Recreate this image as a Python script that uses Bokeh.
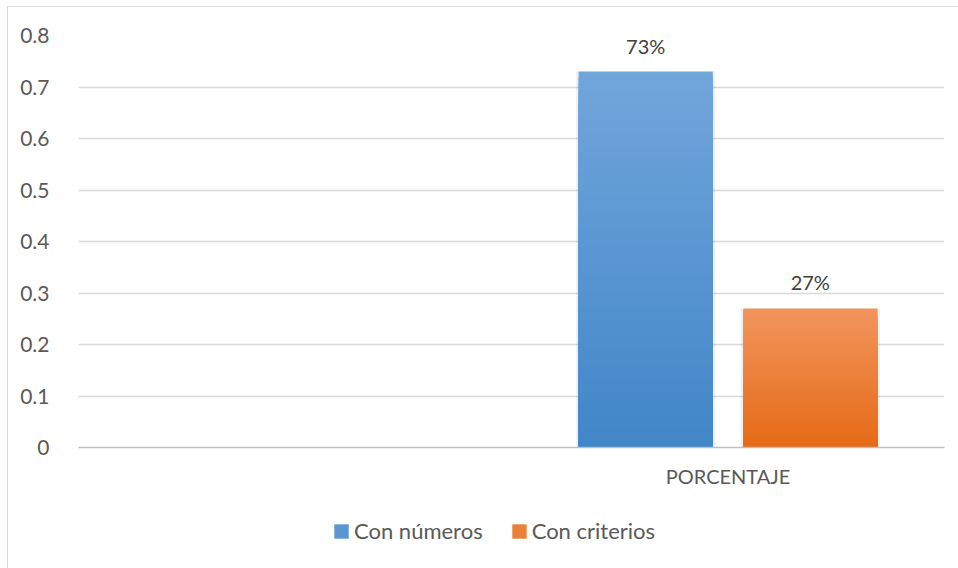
import numpy as np
from bokeh.plotting import figure
from bokeh.layouts import column
from bokeh.core.properties import value
from bokeh.models import (ColumnDataSource, Range1d, FactorRange, FixedTicker,
                          LabelSet, Legend, LegendItem)
from bokeh.transform import dodge
from bokeh.embed import file_html
from bokeh.resources import INLINE

# ---- data ----
categories = ["", "PORCENTAJE"]
series_names = ["Con números", "Con criterios"]
series_values = [0.73, 0.27]
value_labels = ["73%", "27%"]
y_ticks = [0, 0.1, 0.2, 0.3, 0.4, 0.5, 0.6, 0.7, 0.8]
y_tick_labels = ["0", "0.1", "0.2", "0.3", "0.4", "0.5", "0.6", "0.7", "0.8"]

# ---- styling ----
FONT = "Lato"
TXT = "#595959"
grad = [("#71A6DB", "#4186C8"), ("#F1955D", "#E66A15")]  # (top, bottom)
offsets = [-0.19, 0.19]
bar_w = 0.31

p = figure(width=952, height=493, frame_width=866, frame_height=412,
           x_range=FactorRange(*categories),
           y_range=Range1d(0, 0.8), output_backend="svg", toolbar_location=None,
           min_border_left=70, min_border_right=16, min_border_top=28,
           min_border_bottom=53)
p.outline_line_color = None
p.background_fill_color = "white"
p.border_fill_color = "white"

p.xgrid.grid_line_color = None
p.ygrid.grid_line_color = "#D9D9D9"
p.ygrid.grid_line_width = 1.3
p.yaxis.ticker = FixedTicker(ticks=y_ticks)
p.yaxis.major_label_overrides = {t: l for t, l in zip(y_ticks, y_tick_labels)}
p.yaxis.axis_line_color = None
p.yaxis.major_tick_line_color = None
p.yaxis.minor_tick_line_color = None
p.yaxis.major_label_standoff = 23
p.yaxis.major_label_text_font = FONT
p.yaxis.major_label_text_font_size = "21px"
p.yaxis.major_label_text_color = TXT

p.xaxis.axis_line_color = "#BFBFBF"
p.xaxis.axis_line_width = 1.3
p.xaxis.major_tick_line_color = None
p.xaxis.minor_tick_line_color = None
p.xaxis.major_label_standoff = 10
p.xaxis.major_label_text_font = FONT
p.xaxis.major_label_text_font_size = "20px"
p.xaxis.major_label_text_color = TXT


def h2r(h):
    return np.array([int(h[i:i + 2], 16) for i in (1, 3, 5)], dtype=float)


def r2h(c):
    return "#%02x%02x%02x" % tuple(int(round(v)) for v in c)


# legend figure (below the chart)
lf = figure(width=952, height=68, x_range=Range1d(0, 1), y_range=Range1d(0, 1),
            output_backend="svg", toolbar_location=None,
            x_axis_location=None, y_axis_location=None,
            min_border=0, min_border_left=0, min_border_right=0,
            min_border_top=0, min_border_bottom=0)
lf.outline_line_color = None
lf.grid.grid_line_color = None
lf.background_fill_color = "white"
lf.border_fill_color = "white"

n = 60
legend_items = []
for name, val, off, (ctop, cbot) in zip(series_names, series_values, offsets, grad):
    # soft shadow
    sh = ColumnDataSource(dict(cat=[categories[1]], top=[val]))
    p.vbar(x=dodge("cat", off, range=p.x_range), top="top", bottom=0,
           width=bar_w + 0.012, source=sh, fill_color="black", fill_alpha=0.06,
           line_color=None)
    # gradient: nested bars from 0 to a fraction of the value, tallest drawn first
    fr = np.linspace(1, 0, n + 1)[:-1]
    cols = [r2h(h2r(cbot) * (1 - t) + h2r(ctop) * t) for t in fr - 0.5 / n]
    src = ColumnDataSource(dict(cat=[categories[1]] * n, top=val * fr, color=cols))
    p.vbar(x=dodge("cat", off, range=p.x_range), top="top", bottom=0,
           width=bar_w, source=src, fill_color="color", line_color=None)
    # legend swatch renderer (zero height, invisible)
    lr = lf.vbar(x=[0.5], top=[0], bottom=[0], width=0.0,
                 fill_color=r2h((h2r(ctop) + h2r(cbot)) / 2), line_color=None)
    legend_items.append(LegendItem(label=name, renderers=[lr]))

for i in range(2):
    s = ColumnDataSource(dict(cat=[categories[1]], val=[series_values[i]], lab=[value_labels[i]]))
    p.add_layout(LabelSet(x=dodge("cat", offsets[i], range=p.x_range), y="val", text="lab",
                          source=s, text_align="center", text_baseline="bottom",
                          y_offset=14, text_font=value(FONT), text_font_size=value("20px"),
                          text_color=value("#404040")))

legend = Legend(items=legend_items, orientation="horizontal", location=(254, 24),
                glyph_width=18, glyph_height=18, label_standoff=4, spacing=27,
                label_text_font=FONT, label_text_font_size="22px",
                label_text_color=TXT, border_line_color=None,
                background_fill_alpha=0, margin=0, padding=0)
lf.add_layout(legend, "center")

layout = column(p, lf, spacing=0)
layout.margin = (6, 0, 0, 7)
layout.styles = {"border": "1px solid #D9D9D9"}

open("out.html", "w").write(file_html(layout, INLINE))
